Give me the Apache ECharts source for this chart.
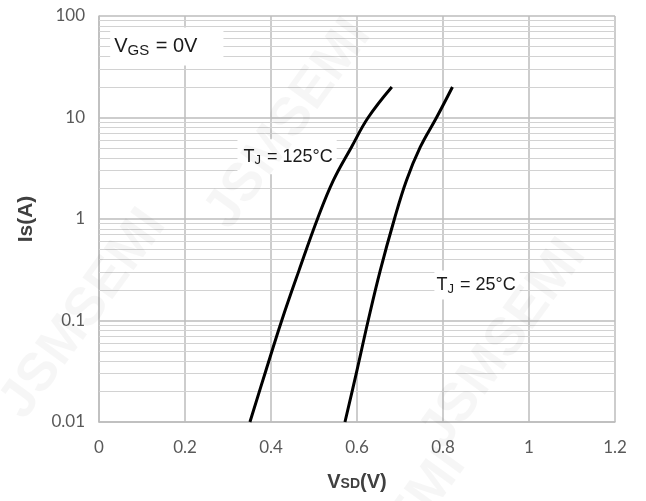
<!DOCTYPE html>
<html>
<head>
<meta charset="utf-8">
<script src="https://cdn.jsdelivr.net/npm/echarts@6/dist/echarts.min.js"></script>
<style>
html,body{margin:0;padding:0;background:#fff;}
#chart{width:646px;height:501px;}
</style>
</head>
<body>
<div id="chart"></div>
<script>
// ---- data ----
const xTicks = ['0', '0.2', '0.4', '0.6', '0.8', '1', '1.2'];
const yTicks = ['0.01', '0.1', '1', '10', '100'];
// [V_SD (V), Is (A)]
const tj125 = [[0.351, 0.01], [0.388, 0.032], [0.425, 0.1], [0.465, 0.31], [0.508, 1], [0.545, 2.4], [0.587, 5.1], [0.626, 10], [0.681, 20]];
const tj25 = [[0.572, 0.01], [0.599, 0.031], [0.626, 0.1], [0.654, 0.31], [0.687, 1], [0.715, 2.4], [0.747, 5.1], [0.785, 10], [0.822, 20]];
const minorDecades = [0.01, 0.1, 1, 10];
const minorMults = [2, 3, 4, 5, 6, 7, 8, 9];
const notes = [
  { text: 'V{sub|GS} = 0V', coord: [0.026, 50], pad: [7, 26, 7, 4], size: 20, sub: 15 },
  { text: 'T{sub|J} = 125°C', coord: [0.322, 4.1], pad: [7, 4, 7, 6], size: 18, sub: 13 },
  { text: 'T{sub|J} = 25°C', coord: [0.78, 0.224], pad: [4, 4, 4, 2], size: 18, sub: 13 }
];

const minorLines = [];
minorDecades.forEach(d => minorMults.forEach(m => minorLines.push({ yAxis: +(d * m).toPrecision(3) })));

const chart = echarts.init(document.getElementById('chart'), null, { renderer: 'canvas' });

const wm = (l, t, r) => ({
  type: 'text', left: l, top: t, rotation: r, silent: true, z: 100,
  style: { text: 'JSMSEMI', fontSize: 54, fontFamily: 'Liberation Sans, Arial', fontWeight: 'bold', fill: 'rgba(0,0,0,0.035)' }
});

chart.setOption({
  animation: false,
  backgroundColor: '#fff',
  grid: { left: 99, right: 31, top: 16, bottom: 79 },
  xAxis: {
    type: 'value', min: 0, max: 1.2, interval: 0.2,
    axisLine: { show: true, lineStyle: { color: '#bcbcbc', width: 1.5 } },
    axisTick: { show: false },
    splitLine: { show: true, lineStyle: { color: '#bcbcbc', width: 1.5 } },
    axisLabel: {
      margin: 17, color: '#595959', fontSize: 17, fontFamily: 'Lato, Open Sans, sans-serif',
      formatter: (v) => xTicks[Math.round(v / 0.2)]
    },
    name: '{b|V}{s|SD}{b|(V)}', nameLocation: 'middle', nameGap: 50,
    nameTextStyle: {
      rich: {
        b: { fontSize: 20, fontWeight: 'bold', color: '#404040', fontFamily: 'Liberation Sans, Arial' },
        s: { fontSize: 14, fontWeight: 'bold', color: '#404040', fontFamily: 'Liberation Sans, Arial', padding: [5, 0, 0, 0] }
      }
    }
  },
  yAxis: {
    type: 'log', logBase: 10, min: 0.01, max: 100,
    axisLine: { show: true, lineStyle: { color: '#bcbcbc', width: 1.5 } },
    axisTick: { show: false },
    splitLine: { show: true, lineStyle: { color: '#bcbcbc', width: 1.5 } },
    axisLabel: {
      margin: 14, color: '#595959', fontSize: 17, fontFamily: 'Lato, Open Sans, sans-serif',
      formatter: (v) => yTicks[Math.round(Math.log10(v)) + 2]
    },
    name: 'Is(A)', nameLocation: 'middle', nameGap: 62, nameRotate: 90,
    nameTextStyle: { fontSize: 21, fontWeight: 'bold', color: '#404040', fontFamily: 'Liberation Sans, Arial' }
  },
  graphic: [wm(195, 10, Math.PI * 0.3), wm(-10, 200, Math.PI * 0.3), wm(410, 230, Math.PI * 0.3), wm(290, 440, Math.PI * 0.3)],
  series: [
    {
      type: 'line', data: [], z: 1, silent: true,
      markLine: {
        silent: true, symbol: ['none', 'none'], label: { show: false },
        lineStyle: { color: '#d2d2d2', width: 1, type: 'solid' },
        data: minorLines
      }
    },
    {
      name: 'TJ=125', type: 'line', data: tj125, smooth: 0.4, showSymbol: false, z: 5,
      lineStyle: { color: '#000', width: 3 }
    },
    {
      name: 'TJ=25', type: 'line', data: tj25, smooth: 0.4, showSymbol: false, z: 5,
      lineStyle: { color: '#000', width: 3 }
    },
    {
      type: 'line', data: [], z: 10, silent: true,
      markPoint: {
        symbol: 'rect', symbolSize: 0, silent: true,
        data: notes.map(n => ({
          coord: n.coord,
          label: {
            show: true, position: 'right', distance: 0,
            formatter: n.text,
            backgroundColor: '#fff', padding: n.pad,
            fontFamily: 'Liberation Sans, Arial, sans-serif', fontSize: n.size, color: '#1a1a1a',
            rich: {
              sub: { fontSize: n.sub, color: '#1a1a1a', fontFamily: 'Liberation Sans, Arial', padding: [Math.round(n.size * 0.45), 1, 0, 0] }
            }
          }
        }))
      }
    }
  ]
});
</script>
</body>
</html>
